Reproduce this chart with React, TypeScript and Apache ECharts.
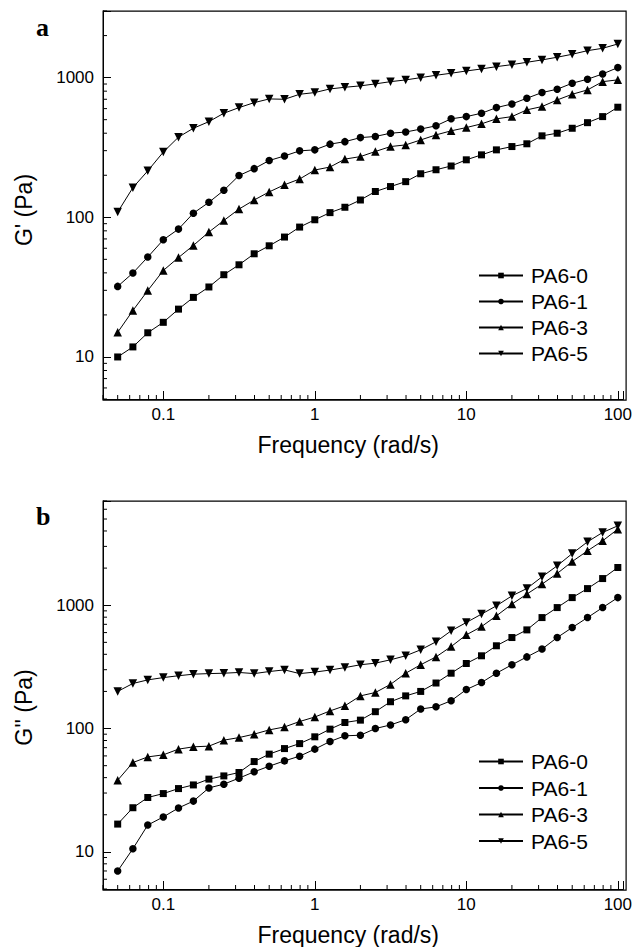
import React, { useEffect, useRef } from "react";
import * as echarts from "echarts";

// Frequency (rad/s)
const freq = [0.05, 0.063, 0.079, 0.1, 0.126, 0.158, 0.2, 0.251, 0.316, 0.398, 0.5, 0.631, 0.794, 1, 1.26, 1.58, 2, 2.51, 3.16, 3.98, 5, 6.31, 7.94, 10, 12.6, 15.8, 20, 25.1, 31.6, 39.8, 50, 63.1, 79.4, 100];

const seriesNames = ["PA6-0", "PA6-1", "PA6-3", "PA6-5"];

// Panel a: G' (Pa)
const gPrime0 = [10, 11.8, 14.9, 17.7, 22.0, 26.7, 31.7, 38.8, 45.7, 54.8, 62.5, 72.2, 85.1, 96, 108, 118, 133, 153, 166, 180, 205, 219, 233, 258, 280, 304, 321, 336, 383, 400, 434, 476, 526, 614];
const gPrime1 = [32, 39.9, 51.9, 69, 82.3, 107, 128, 156, 199, 223, 255, 275, 299, 304, 334, 348, 372, 379, 400, 408, 428, 452, 507, 526, 556, 610, 648, 712, 782, 826, 912, 974, 1063, 1180];
const gPrime3 = [15.0, 21.5, 29.9, 41.6, 51.5, 62.9, 78.4, 94.9, 114.5, 133, 152, 171, 188, 218, 229, 261, 272, 296, 321, 330, 358, 389, 416, 439, 467, 507, 526, 588, 621, 692, 760, 817, 936, 964];
const gPrime5 = [109, 163, 215, 293, 375, 434, 484, 556, 610, 662, 704, 700, 760, 782, 830, 853, 873, 902, 936, 963, 1000, 1040, 1075, 1116, 1154, 1199, 1239, 1288, 1339, 1400, 1470, 1560, 1622, 1742];

// Panel b: G'' (Pa)
const gDouble0 = [16.8, 22.8, 27.6, 29.7, 32.6, 34.9, 38.9, 41.3, 44.0, 54.0, 62.0, 68.8, 75.5, 85.7, 98.9, 112, 117, 137, 165, 184, 200, 234, 281, 337, 389, 469, 547, 631, 794, 957, 1153, 1364, 1645, 2023];
const gDouble1 = [7.0, 10.6, 16.5, 19.2, 22.7, 25.8, 33.0, 35.4, 39.6, 44.6, 49.5, 54.7, 59.7, 68.1, 78.5, 87.3, 88.3, 100, 107, 118, 144, 150, 168, 207, 236, 281, 329, 381, 441, 547, 659, 794, 957, 1153];
const gDouble3 = [38.1, 53.0, 58.9, 61.2, 68.1, 71.1, 72.0, 80.5, 84.5, 90.1, 97.5, 103, 114, 124, 139, 153, 184, 196, 228, 281, 329, 381, 462, 575, 671, 820, 1021, 1231, 1483, 1808, 2261, 2761, 3327, 4140];
const gDouble5 = [200, 232, 248, 259, 268, 276, 279, 281, 285, 279, 290, 299, 279, 287, 298, 312, 329, 339, 361, 389, 435, 505, 620, 724, 847, 989, 1191, 1366, 1700, 2089, 2624, 3267, 3890, 4405];

// Axis ranges and minor tick values
const xRange = [0.04, 109];
const yRangeA = [5, 3000];
const yRangeB = [5, 7000];
const xMinorTicks = [0.04, 0.05, 0.06, 0.07, 0.08, 0.09, 0.2, 0.3, 0.4, 0.5, 0.6, 0.7, 0.8, 0.9, 2, 3, 4, 5, 6, 7, 8, 9, 20, 30, 40, 50, 60, 70, 80, 90];
const yMinorTicksA = [5, 6, 7, 8, 9, 20, 30, 40, 50, 60, 70, 80, 90, 200, 300, 400, 500, 600, 700, 800, 900, 2000, 3000];
const yMinorTicksB = [5, 6, 7, 8, 9, 20, 30, 40, 50, 60, 70, 80, 90, 200, 300, 400, 500, 600, 700, 800, 900, 2000, 3000, 4000, 5000, 6000, 7000];

const FONT = "'Liberation Sans', Arial, Helvetica, sans-serif";

const symbols = [
  { symbol: "rect", size: 7, rotate: 0 },
  { symbol: "circle", size: 7.5, rotate: 0 },
  { symbol: "triangle", size: 8.5, rotate: 0 },
  { symbol: "triangle", size: 8.5, rotate: 180 },
];

const GRID_A = { left: 103, top: 11, width: 522, height: 388 };
const GRID_B = { left: 103, top: 501, width: 522, height: 388 };

function fmtPow(v: number): string {
  const l = Math.log10(v);
  if (Math.abs(l - Math.round(l)) > 1e-6) return "";
  const r = Math.round(l);
  return r < 0 ? Math.pow(10, r).toFixed(-r) : String(Math.round(Math.pow(10, r)));
}

export default function App() {
  const ref = useRef<HTMLDivElement>(null);
  useEffect(() => {
    if (!ref.current) return;
    const chart = echarts.init(ref.current, undefined, { renderer: "svg" });

    const grids = [GRID_A, GRID_B];

    const makeX = (gi: number) => ({
      type: "log",
      logBase: 10,
      gridIndex: gi,
      position: "bottom",
      min: xRange[0],
      max: xRange[1],
      name: "Frequency (rad/s)",
      nameLocation: "middle",
      nameGap: 34,
      nameTextStyle: { fontSize: 23, color: "#000", fontFamily: FONT, padding: [0, 30, 0, 0] },
      axisLine: { show: true, lineStyle: { color: "#000", width: 1 } },
      axisTick: { show: true, inside: true, length: 8, lineStyle: { color: "#000", width: 1 } },
      axisLabel: { show: true, margin: 7, fontSize: 17, color: "#000", fontFamily: FONT, formatter: fmtPow },
      splitLine: { show: false },
      minorTick: { show: false },
    });

    const makeY = (gi: number, range: number[], name: string, pad: number) => ({
      type: "log",
      logBase: 10,
      gridIndex: gi,
      position: "left",
      min: range[0],
      max: range[1],
      name,
      nameLocation: "middle",
      nameRotate: 90,
      nameGap: 68,
      nameTextStyle: { fontSize: 23, color: "#000", fontFamily: FONT, padding: [0, pad, 0, 0] },
      axisLine: { show: true, lineStyle: { color: "#000", width: 1 } },
      axisTick: { show: true, inside: true, length: 8, lineStyle: { color: "#000", width: 1 } },
      axisLabel: { show: true, margin: 9, fontSize: 17, color: "#000", fontFamily: FONT, formatter: fmtPow },
      splitLine: { show: false },
      minorTick: { show: false },
    });

    const dataSets = [
      [gPrime0, gPrime1, gPrime3, gPrime5],
      [gDouble0, gDouble1, gDouble3, gDouble5],
    ];
    const yRanges = [yRangeA, yRangeB];

    const series: any[] = [];
    dataSets.forEach((set, gi) => {
      set.forEach((vals, si) => {
        series.push({
          type: "line",
          name: seriesNames[si],
          xAxisIndex: gi,
          yAxisIndex: gi,
          data: freq.map((f, i) => [f, vals[i]]),
          symbol: symbols[si].symbol,
          symbolSize: symbols[si].size,
          symbolRotate: symbols[si].rotate,
          showAllSymbol: true,
          itemStyle: { color: "#000" },
          lineStyle: { color: "#000", width: 1 },
          emphasis: { disabled: true },
          silent: true,
          z: 3,
        });
      });
    });

    const yMinor = [yMinorTicksA, yMinorTicksB];
    [0, 1].forEach((gi) => {
      const yr = yRanges[gi];
      series.push({
        type: "custom",
        name: "xminor" + gi,
        xAxisIndex: gi,
        yAxisIndex: gi,
        silent: true,
        clip: false,
        data: xMinorTicks.map((v) => [v, yr[0]]),
        renderItem: (params: any, api: any) => {
          const p = api.coord([api.value(0), api.value(1)]);
          return {
            type: "line",
            shape: { x1: p[0], y1: p[1], x2: p[0], y2: p[1] - 4 },
            style: { stroke: "#000", lineWidth: 1 },
          };
        },
      });
      series.push({
        type: "custom",
        name: "yminor" + gi,
        xAxisIndex: gi,
        yAxisIndex: gi,
        silent: true,
        clip: false,
        data: yMinor[gi].map((v) => [xRange[0], v]),
        renderItem: (params: any, api: any) => {
          const p = api.coord([api.value(0), api.value(1)]);
          return {
            type: "line",
            shape: { x1: p[0], y1: p[1], x2: p[0] + 4, y2: p[1] },
            style: { stroke: "#000", lineWidth: 1 },
          };
        },
      });
    });

    const legendBase = {
      orient: "vertical",
      left: 473,
      itemWidth: 44,
      itemHeight: 7,
      selectedMode: false,
      data: seriesNames,
      textStyle: { fontSize: 21, color: "#000", fontFamily: FONT, lineHeight: 21, padding: [0, 0, 0, 3] },
      inactiveColor: "#000",
    };

    // plot frames (box around each grid)
    const frames = grids.map((g) => ({
      type: "rect",
      left: g.left - 0.5,
      top: g.top - 0.5,
      z: 10,
      silent: true,
      shape: { x: 0, y: 0, width: g.width + 1, height: g.height + 1 },
      style: { fill: "transparent", stroke: "#000", lineWidth: 1.2 },
    }));

    chart.setOption({
      animation: false,
      backgroundColor: "#fff",
      grid: grids.map((g) => ({ ...g, show: false, containLabel: false })),
      xAxis: [makeX(0), makeX(1)],
      yAxis: [makeY(0, yRangeA, "G' (Pa)", 10), makeY(1, yRangeB, "G'' (Pa)", 25)],
      legend: [
        { ...legendBase, top: 260, itemGap: 5 },
        { ...legendBase, top: 746, itemGap: 5.5 },
      ],
      graphic: [
        ...frames,
        { type: "text", left: 36, top: 14, style: { text: "a", font: "bold 26px 'Liberation Serif', 'Times New Roman', serif", fill: "#000" } },
        { type: "text", left: 36, top: 503, style: { text: "b", font: "bold 26px 'Liberation Serif', 'Times New Roman', serif", fill: "#000" } },
      ],
      series,
    });

    return () => chart.dispose();
  }, []);

  return <div ref={ref} style={{ position: "absolute", left: 0, top: 0, width: 635, height: 947 }} />;
}
